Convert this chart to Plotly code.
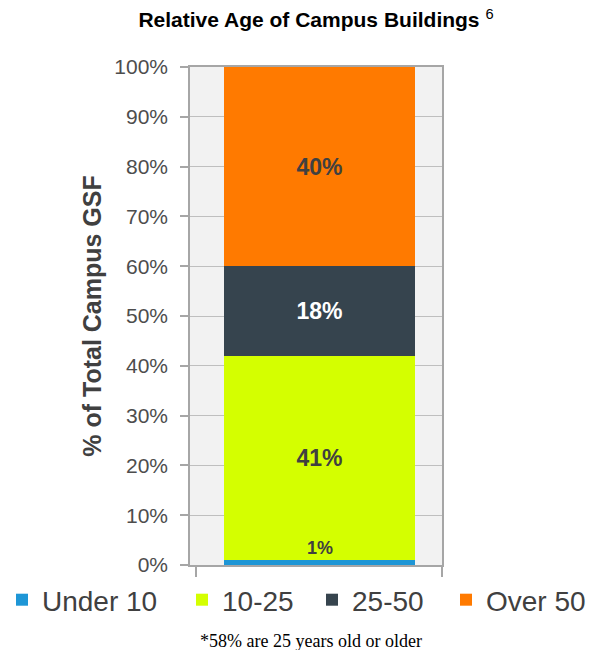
import plotly.graph_objects as go

categories = ["Under 10", "10-25", "25-50", "Over 50"]
values = [1, 41, 18, 40]
colors = ["#1E96D6", "#D4FF00", "#36444E", "#FF7A00"]
label_colors = ["#404040", "#404040", "#FFFFFF", "#404040"]
legend_x = [2, 182, 312, 446]
bar_x = [0]
y_ticks = list(range(0, 101, 10))
y_ticktext = [f"{t}%" for t in y_ticks]

legend_ids = ["legend", "legend2", "legend3", "legend4"]

fig = go.Figure()
for name, v, c, lc, lid in zip(categories, values, colors, label_colors, legend_ids):
    show_inside = v >= 5
    if show_inside:
        kw = dict(
            text=[f"{v}%"], textposition="inside", insidetextanchor="middle",
            textangle=0, constraintext="none",
            textfont=dict(family="Liberation Sans, Arial", size=23, color=lc, weight="bold"),
        )
    else:
        kw = dict(textposition="none")
    fig.add_trace(go.Bar(
        x=bar_x, y=[v], name=name, marker=dict(color=c, line=dict(width=0)),
        width=0.758, legend=lid, hoverinfo="skip", **kw,
    ))

# small label just above the thin first segment
fig.add_annotation(
    x=bar_x[0], y=values[0], xref="x", yref="y", text=f"<b>{values[0]}%</b>",
    showarrow=False, yanchor="bottom",
    font=dict(family="Liberation Sans, Arial", size=18, color="#404040"),
)

fig.add_annotation(
    x=0.48, y=-0.1526, xref="paper", yref="paper",
    text="*58% are 25 years old or older", showarrow=False, yanchor="middle",
    font=dict(family="Liberation Serif, Times New Roman", size=18, color="#000000"),
)

legend_layout = {}
for lid, lx in zip(legend_ids, legend_x):
    legend_layout[lid] = dict(
        orientation="h", traceorder="normal",
        x=lx / 598, xref="container", xanchor="left",
        y=1 - 600 / 650, yref="container", yanchor="middle",
        font=dict(family="Liberation Sans, Arial", size=28, color="#404040"),
        bgcolor="rgba(0,0,0,0)",
    )

fig.update_layout(
    width=598, height=650,
    barmode="stack",
    plot_bgcolor="#F2F2F2", paper_bgcolor="#FFFFFF",
    margin=dict(l=190, r=156, t=67, b=85, autoexpand=False),
    title=dict(
        text="<b>Relative Age of Campus Buildings</b> <sup>6</sup>",
        x=0.5, xref="paper", xanchor="center",
        y=1 - 20 / 650, yref="container", yanchor="middle",
        font=dict(family="Liberation Sans, Arial", size=21, color="#000000"),
    ),
    showlegend=True,
    **legend_layout,
    xaxis=dict(
        range=[-0.514, 0.486], showticklabels=False, showgrid=False, zeroline=False,
        showline=True, linecolor="#A6A6A6", linewidth=1.5, mirror=True,
        tickmode="array", tickvals=[-0.49, 0.486], ticks="outside", ticklen=10,
        tickcolor="#A6A6A6", tickwidth=1.5, fixedrange=True,
    ),
    yaxis=dict(
        range=[0, 100], tickmode="array", tickvals=y_ticks, ticktext=y_ticktext,
        showgrid=True, gridcolor="#BFBFBF", gridwidth=1, zeroline=False,
        showline=True, linecolor="#A6A6A6", linewidth=1.5, mirror=True,
        ticks="outside", ticklen=8, tickcolor="#A6A6A6", tickwidth=1.5,
        ticklabelstandoff=8,
        tickfont=dict(family="Liberation Sans, Arial", size=21, color="#4D4D4D"),
        title=dict(
            text="<b>% of Total Campus GSF</b>", standoff=6,
            font=dict(family="Liberation Sans, Arial", size=25, color="#404040"),
        ),
        fixedrange=True,
    ),
)

fig.write_html(
    "out.html",
    config={"displayModeBar": False},
    post_script="document.body.style.margin='0px';document.body.style.padding='0px';",
)
